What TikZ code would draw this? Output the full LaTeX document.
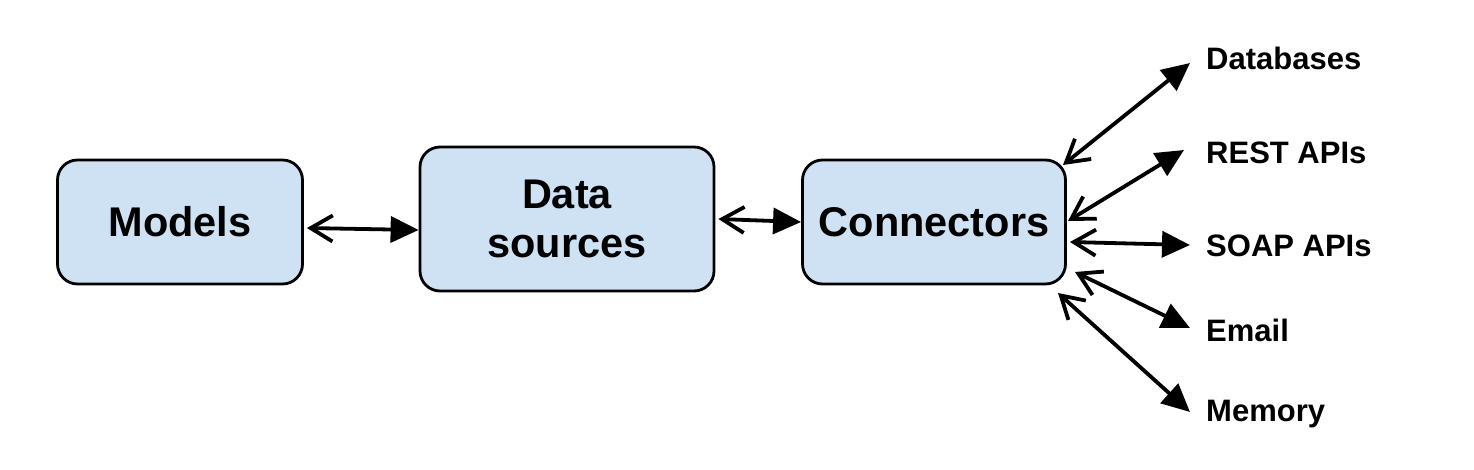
\documentclass[tikz,border=0pt]{standalone}
\usepackage{fontspec}
\setmainfont{Liberation Sans}
\usetikzlibrary{arrows.meta}
\definecolor{boxblue}{HTML}{CFE2F3}
\begin{document}
\begin{tikzpicture}[x=1pt,y=-1pt,
  box/.style={draw=black,line width=2.8pt,fill=boxblue,rounded corners=20pt,inner sep=0pt,
    font=\fontsize{41.5}{49}\selectfont\bfseries,align=center},
  lbl/.style={anchor=west,inner sep=0pt,font=\fontsize{31}{36}\selectfont\bfseries},
  link/.style={line width=3.8pt,
    {Straight Barb[length=22pt,width=26pt]}-{Triangle[length=28pt,width=26pt]}}]
\useasboundingbox (0,0) rectangle (1474,470);
\node[box,minimum width=245pt,minimum height=124pt] (models) at (180,222) {Models};
\node[box,minimum width=294pt,minimum height=144pt] (data) at (567,219) {Data\\sources};
\node[box,minimum width=263pt,minimum height=124pt] (conn) at (934,222) {Connectors};
\node[lbl] (db) at (1206,58) {Databases};
\node[lbl] (rest) at (1206,153) {REST APIs};
\node[lbl] (soap) at (1206,246) {SOAP APIs};
\node[lbl] (email) at (1206,330) {Email};
\node[lbl] (mem) at (1206,414) {Memory};
\coordinate (c1) at (1063,165);
\coordinate (c2) at (1068,221);
\coordinate (c3) at (1070,242);
\coordinate (c4) at (1075,272);
\coordinate (c5) at (1058,293);
\coordinate (t1) at (1190,63);
\coordinate (t2) at (1184,150);
\coordinate (t3) at (1190,245);
\coordinate (t4) at (1190,328);
\coordinate (t5) at (1190,412);
\draw[link] (models.east |- 0,228) ++(3,0) coordinate (m1) -- (data.west |- 0,230);
\draw[link] ([xshift=3pt]data.east) -- (conn.west);
\draw[link] (c1) -- (t1);
\draw[link] (c2) -- (t2);
\draw[link] (c3) -- (t3);
\draw[link] (c4) -- (t4);
\draw[link] (c5) -- (t5);
\end{tikzpicture}
\end{document}
